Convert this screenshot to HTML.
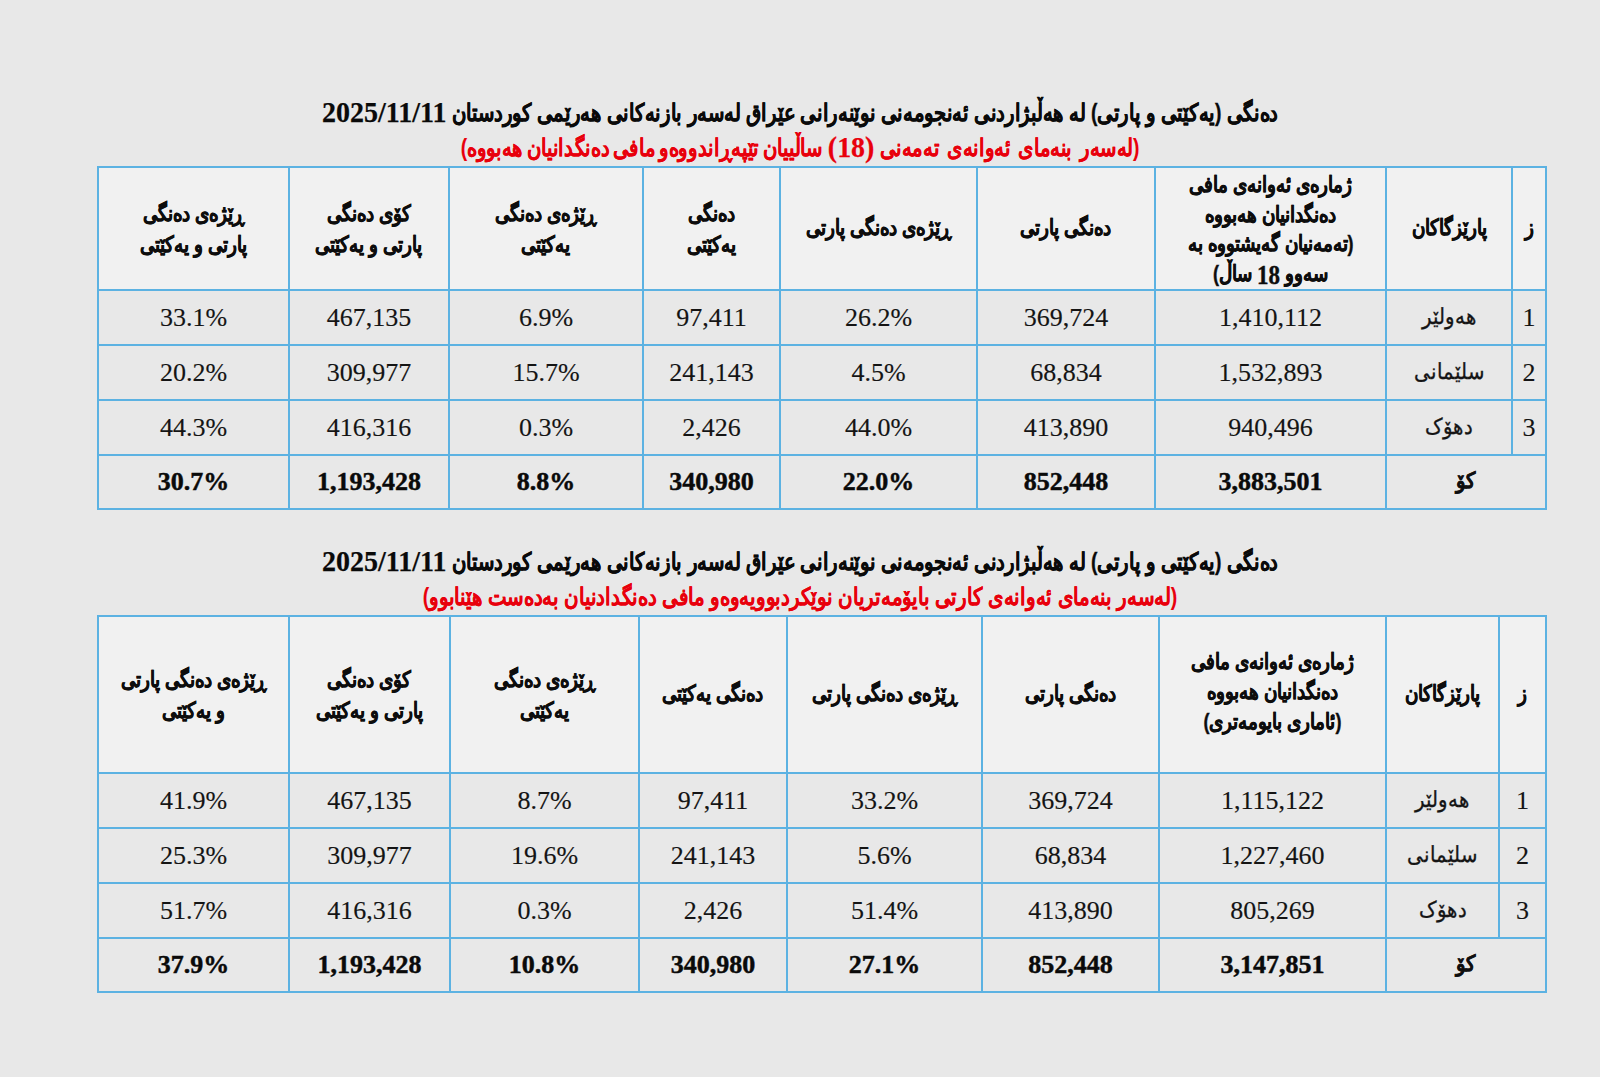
<!DOCTYPE html>
<html lang="ckb">
<head>
<meta charset="utf-8">
<title>دەنگی یەکێتی و پارتی</title>
<style>
html,body{margin:0;padding:0;}
body{width:1600px;height:1077px;background:#e8e8e8;position:relative;overflow:hidden;font-family:"Liberation Sans",sans-serif;color:#111;}
.title{position:absolute;left:0;width:1600px;text-align:center;direction:rtl;white-space:nowrap;transform-origin:800px 0;line-height:30px;}
.t1{font-weight:bold;font-size:20px;color:#0a0a0a;}
.t2{font-weight:bold;font-size:20px;color:#e8000c;}
.big{font-family:"Liberation Serif",serif;font-size:29px;font-weight:bold;position:relative;top:2px;-webkit-text-stroke:0.25px currentColor;}
.h18{font-family:"Liberation Serif",serif;font-size:23px;font-weight:bold;line-height:10px;position:relative;top:3px;}
th.l2{line-height:26px;}
th.l4{line-height:24.5px;}
th.l3{line-height:25px;}
th.l3 .h{position:relative;top:-2px;}
.h{display:inline-block;transform:scaleY(1.2);-webkit-text-stroke:0.35px #0d0d0d;}
.num{font-family:"Liberation Serif",serif;}
.title .ar{display:inline-block;transform:scaleY(1.18);transform-origin:50% 62%;-webkit-text-stroke:0.3px currentColor;}
.t2 .ar{-webkit-text-stroke:0.1px currentColor;}
table{position:absolute;border-collapse:collapse;table-layout:fixed;direction:rtl;}
td,th{border:2px solid #5cb2e2;padding:0;text-align:center;vertical-align:middle;}
th{background:#f1f1f1;font-weight:bold;font-size:18px;line-height:29px;color:#0d0d0d;}
td{background:#e8e8e8;font-family:"Liberation Serif",serif;font-size:26px;color:#141414;-webkit-text-stroke:0.15px #141414;}
td.ar{font-family:"Liberation Sans",sans-serif;font-size:20px;}
.pv{display:inline-block;transform:scaleY(1.12);position:relative;top:-2px;-webkit-text-stroke:0.3px #141414;}
tr.tot td{font-weight:bold;color:#0a0a0a;-webkit-text-stroke:0.45px #0a0a0a;}
tr.tot td.tot-ar{font-weight:bold;font-size:20px;-webkit-text-stroke:0;}
</style>
</head>
<body>
<div class="title t1" style="top:95px;transform:scaleX(0.964)"><span class="ar">دەنگی (یەکێتی و پارتی) لە هەڵبژاردنی ئەنجومەنی نوێنەرانی عێراق لەسەر بازنەکانی هەرێمی کوردستان</span> <span class="big">2025/11/11</span></div>
<div class="title t2" style="top:130px;transform:scaleX(0.963)"><span class="ar" style="word-spacing:2.4px">(لەسەر بنەمای ئەوانەی تەمەنی</span> <span class="big">(18)</span> <span class="ar" style="word-spacing:-1.8px">ساڵییان تێپەڕاندووەو مافی دەنگدانیان هەبووە)</span></div>

<table id="tab1" style="left:97px;top:166px;width:1448px">
<colgroup><col style="width:34px"><col style="width:126px"><col style="width:231px"><col style="width:178px"><col style="width:197px"><col style="width:137px"><col style="width:194px"><col style="width:160px"><col style="width:191px"></colgroup>
<tr style="height:123px"><th><span class="h">ز</span></th><th><span class="h">پارێزگاکان</span></th><th class="l4"><span class="h">ژمارەی ئەوانەی مافی<br>دەنگدانیان هەبووە<br>(تەمەنیان گەیشتووە بە<br>سەوو <span class="h18">18</span> ساڵ)</span></th><th><span class="h">دەنگی پارتی</span></th><th><span class="h">ڕێژەی دەنگی پارتی</span></th><th class="l2"><span class="h">دەنگی<br>یەکێتی</span></th><th class="l2"><span class="h">ڕێژەی دەنگی<br>یەکێتی</span></th><th class="l2"><span class="h">کۆی دەنگی<br>پارتی و یەکێتی</span></th><th class="l2"><span class="h">ڕێژەی دەنگی<br>پارتی و یەکێتی</span></th></tr>
<tr style="height:55px"><td>1</td><td class="ar"><span class="pv">هەولێر</span></td><td>1,410,112</td><td>369,724</td><td>26.2%</td><td>97,411</td><td>6.9%</td><td>467,135</td><td>33.1%</td></tr>
<tr style="height:55px"><td>2</td><td class="ar"><span class="pv">سلێمانی</span></td><td>1,532,893</td><td>68,834</td><td>4.5%</td><td>241,143</td><td>15.7%</td><td>309,977</td><td>20.2%</td></tr>
<tr style="height:55px"><td>3</td><td class="ar"><span class="pv">دهۆک</span></td><td>940,496</td><td>413,890</td><td>44.0%</td><td>2,426</td><td>0.3%</td><td>416,316</td><td>44.3%</td></tr>
<tr class="tot" style="height:54px"><td colspan="2" class="ar tot-ar"><span class="pv">کۆ</span></td><td>3,883,501</td><td>852,448</td><td>22.0%</td><td>340,980</td><td>8.8%</td><td>1,193,428</td><td>30.7%</td></tr>
</table>

<div class="title t1" style="top:544px;transform:scaleX(0.964)"><span class="ar">دەنگی (یەکێتی و پارتی) لە هەڵبژاردنی ئەنجومەنی نوێنەرانی عێراق لەسەر بازنەکانی هەرێمی کوردستان</span> <span class="big">2025/11/11</span></div>
<div class="title t2" style="top:582px;transform:scaleX(0.972)"><span class="ar">(لەسەر بنەمای ئەوانەی کارتی بایۆمەتریان نوێکردبوویەوەو مافی دەنگدادنیان بەدەست هێنابوو)</span></div>

<table id="tab2" style="left:97px;top:615px;width:1448px">
<colgroup><col style="width:47px"><col style="width:113px"><col style="width:227px"><col style="width:177px"><col style="width:195px"><col style="width:148px"><col style="width:189px"><col style="width:161px"><col style="width:191px"></colgroup>
<tr style="height:157px"><th><span class="h">ز</span></th><th><span class="h">پارێزگاکان</span></th><th class="l3"><span class="h">ژمارەی ئەوانەی مافی<br>دەنگدانیان هەبووە<br>(ئاماری بایومەتری)</span></th><th><span class="h">دەنگی پارتی</span></th><th><span class="h">ڕێژەی دەنگی پارتی</span></th><th><span class="h">دەنگی یەکێتی</span></th><th class="l2"><span class="h">ڕێژەی دەنگی<br>یەکێتی</span></th><th class="l2"><span class="h">کۆی دەنگی<br>پارتی و یەکێتی</span></th><th class="l2"><span class="h">ڕێژەی دەنگی پارتی<br>و یەکێتی</span></th></tr>
<tr style="height:55px"><td>1</td><td class="ar"><span class="pv">هەولێر</span></td><td>1,115,122</td><td>369,724</td><td>33.2%</td><td>97,411</td><td>8.7%</td><td>467,135</td><td>41.9%</td></tr>
<tr style="height:55px"><td>2</td><td class="ar"><span class="pv">سلێمانی</span></td><td>1,227,460</td><td>68,834</td><td>5.6%</td><td>241,143</td><td>19.6%</td><td>309,977</td><td>25.3%</td></tr>
<tr style="height:55px"><td>3</td><td class="ar"><span class="pv">دهۆک</span></td><td>805,269</td><td>413,890</td><td>51.4%</td><td>2,426</td><td>0.3%</td><td>416,316</td><td>51.7%</td></tr>
<tr class="tot" style="height:54px"><td colspan="2" class="ar tot-ar"><span class="pv">کۆ</span></td><td>3,147,851</td><td>852,448</td><td>27.1%</td><td>340,980</td><td>10.8%</td><td>1,193,428</td><td>37.9%</td></tr>
</table>
</body>
</html>
